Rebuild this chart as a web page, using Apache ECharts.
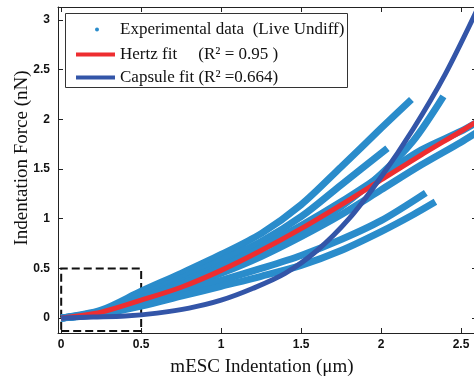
<!DOCTYPE html>
<html><head><meta charset="utf-8">
<script src="https://cdn.jsdelivr.net/npm/echarts@6/dist/echarts.min.js"></script>
<style>html,body{margin:0;padding:0;background:#fff}#c{width:474px;height:379px}</style>
</head><body><div id="c"></div>
<script>
// tick values
const xTicks = [0, 0.5, 1, 1.5, 2, 2.5];
const yTicks = [0, 0.5, 1, 1.5, 2, 2.5, 3];
// experimental runs (x in µm, force in nN)
const expA = [[0,0],[0.25,0.08],[0.5,0.27],[0.75,0.45],[1.0,0.64],[1.25,0.85],[1.5,1.14],[1.75,1.52],[2.0,1.91],[2.19,2.2]];
const expB = [[0,0],[0.25,0.07],[0.5,0.23],[0.75,0.4],[1.0,0.58],[1.25,0.77],[1.5,1.02],[1.75,1.34],[2.04,1.71]];
const expC = [[0,0],[0.25,0.06],[0.5,0.2],[0.75,0.36],[1.0,0.53],[1.25,0.7],[1.5,0.87],[1.75,1.12],[2.0,1.45],[2.2,1.78],[2.39,2.23]];
const expD = [[0,0],[0.25,0.06],[0.5,0.19],[0.75,0.34],[1.0,0.51],[1.25,0.71],[1.5,0.93],[1.75,1.17],[2.0,1.43],[2.25,1.69],[2.5,1.88],[2.6,1.97]];
const expE = [[0,0],[0.25,0.05],[0.5,0.16],[0.75,0.3],[1.0,0.45],[1.25,0.62],[1.5,0.82],[1.75,1.04],[2.0,1.29],[2.25,1.54],[2.5,1.77],[2.6,1.87]];
const expF = [[0,0],[0.25,0.05],[0.5,0.15],[0.75,0.27],[1.0,0.38],[1.25,0.5],[1.5,0.63],[1.75,0.79],[2.0,0.98],[2.28,1.26]];
const expG = [[0,0],[0.25,0.04],[0.5,0.12],[0.75,0.22],[1.0,0.32],[1.25,0.42],[1.5,0.53],[1.75,0.68],[2.0,0.87],[2.2,1.04],[2.34,1.17]];
// fits
const hertzFit = [[0,0],[0.25,0.06],[0.5,0.18],[0.75,0.31],[1.0,0.48],[1.25,0.68],[1.5,0.9],[1.75,1.14],[2.0,1.39],[2.25,1.64],[2.5,1.88],[2.6,1.98]];
const capsuleFit = [[0,0],[0.2,0.01],[0.4,0.02],[0.6,0.05],[0.8,0.1],[1.0,0.18],[1.2,0.3],[1.4,0.45],[1.6,0.68],[1.8,1.0],[2.0,1.42],[2.2,1.9],[2.4,2.45],[2.6,3.1]];
// dashed zoom box
const boxX = [0, 0.5];
const boxY = [-0.13, 0.5];

const expName = 'Experimental data  (Live Undiff)';
const hertzName = 'Hertz fit     (R\u00B2 = 0.95 )';
const capsName = 'Capsule fit (R\u00B2 =0.664)';
const expRuns = [expA, expB, expC, expD, expE, expF, expG];

const C_EXP = '#2a8ccb', C_RED = '#ee2d30', C_BLUE = '#3355a8';
const serif = 'Liberation Serif, Times New Roman, serif';
const sans = 'Liberation Sans, Arial, sans-serif';

const axisBase = {
  type: 'value', splitLine: {show: false},
  axisLine: {show: true, onZero: false, lineStyle: {color: '#222', width: 1}},
  axisTick: {show: true, inside: true, length: 5, lineStyle: {color: '#222'}}
};

const series = expRuns.map((d, i) => ({
  name: expName, type: 'line', data: d, smooth: 0.3, symbol: 'none', z: 2,
  lineStyle: {color: C_EXP, width: 7}, itemStyle: {color: C_EXP},
  markArea: i === 0 ? {silent: true, data: [[{coord: [boxX[0], boxY[0]]}, {coord: [boxX[1], boxY[1]]}]],
    itemStyle: {color: 'rgba(0,0,0,0)', borderColor: '#111', borderWidth: 2, borderType: [8, 4]}} : undefined
}));
series.push({name: hertzName, type: 'line', data: hertzFit, smooth: 0.3, symbol: 'none', z: 3,
  lineStyle: {color: C_RED, width: 5}, itemStyle: {color: C_RED}});
series.push({name: capsName, type: 'line', data: capsuleFit, smooth: 0.3, symbol: 'none', z: 4,
  lineStyle: {color: C_BLUE, width: 5}, itemStyle: {color: C_BLUE}});

const chart = echarts.init(document.getElementById('c'));
chart.setOption({
  animation: false,
  backgroundColor: '#fff',
  grid: {left: 58, right: -3, top: 7, bottom: 46, containLabel: false, outerBoundsMode: 'none'},
  xAxis: [
    Object.assign({}, axisBase, {min: -0.02, max: 2.6, position: 'bottom',
      axisTick: Object.assign({}, axisBase.axisTick, {customValues: xTicks}),
      axisLabel: {customValues: xTicks, margin: 6, color: '#111', fontFamily: sans, fontWeight: 'bold', fontSize: 12},
      name: 'mESC Indentation (\u03BCm)', nameLocation: 'middle', nameGap: 25,
      nameTextStyle: {fontFamily: serif, fontSize: 19, color: '#111', padding: [0, 11, 0, 0]}}),
    Object.assign({}, axisBase, {min: -0.02, max: 2.6, position: 'top',
      axisTick: Object.assign({}, axisBase.axisTick, {customValues: xTicks}),
      axisLabel: {show: false}})
  ],
  yAxis: [
    Object.assign({}, axisBase, {min: -0.15, max: 3.13, position: 'left',
      axisTick: Object.assign({}, axisBase.axisTick, {customValues: yTicks}),
      axisLabel: {customValues: yTicks, margin: 8, color: '#111', fontFamily: sans, fontWeight: 'bold', fontSize: 12}}),
    Object.assign({}, axisBase, {min: -0.15, max: 3.13, position: 'right',
      axisTick: Object.assign({}, axisBase.axisTick, {customValues: yTicks}),
      axisLabel: {show: false}})
  ],
  graphic: [
    {type: 'rect', left: 65, top: 13, z: 9, silent: true,
      shape: {width: 282, height: 74}, style: {fill: '#fff', stroke: '#333', lineWidth: 1}},
    {type: 'text', x: 22, y: 158, rotation: Math.PI / 2, z: 9, silent: true,
      style: {text: 'Indentation Force (nN)', font: '19px ' + serif, fill: '#111', align: 'center', verticalAlign: 'middle'}}
  ],
  legend: [
    {data: [{name: expName, icon: 'circle'}], left: 90, top: 16, itemWidth: 4, itemHeight: 4, z: 10,
      textStyle: {fontFamily: serif, fontSize: 17, color: '#111', padding: [0, 0, 0, 16]}},
    {data: [{name: hertzName}, {name: capsName}], left: 71, top: 41, orient: 'vertical', itemWidth: 39, itemHeight: 4,
      itemGap: 6, icon: 'rect', z: 10,
      textStyle: {fontFamily: serif, fontSize: 17, color: '#111'}}
  ],
  series: series
});
</script></body></html>
